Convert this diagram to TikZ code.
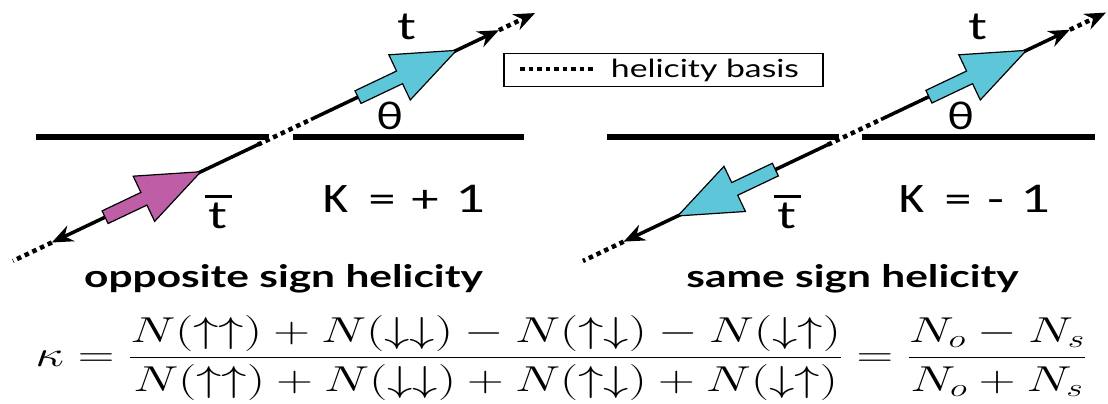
\RequirePackage{fix-cm}
\documentclass[tikz,border=0pt]{standalone}
\usepackage{amsmath}
\usepackage[no-math]{fontspec}
\setmainfont{Lato}
\usetikzlibrary{arrows.meta,calc}
\definecolor{helInk}{HTML}{000000}
\definecolor{helCyan}{HTML}{5EC6D9}
\definecolor{helMagenta}{HTML}{BE5EA7}
\tikzset{
  hel/axis/.style={draw=helInk, line width=5.5pt},
  hel/track/.style={draw=helInk, line width=3.5pt,
    -{Stealth[length=21pt,width=17pt]}},
  hel/basis/.style={draw=helInk, line width=4.5pt,
    dash pattern=on 4.5pt off 4pt},
  hel/basisend/.style={hel/basis, -{Stealth[length=21pt,width=17pt]}},
  hel/block/.style={draw=helInk, line width=1.2pt, line join=miter},
  hel/symbol/.style={font=\fontsize{38}{44}\selectfont, inner sep=0pt},
  hel/caption/.style={font=\fontsize{31}{36}\selectfont\bfseries,
    inner sep=0pt, anchor=base},
  hel/legend/.style={font=\fontsize{25}{30}\selectfont, inner sep=0pt},
}
% the source lettering is set wide
\newcommand{\helwide}[2][1.35]{\scalebox{#1}[1]{#2}}
\newcommand{\antitop}{\vbox{\offinterlineskip
  \hbox to 20pt{\hss\vrule width 20pt height 3pt\hss}\kern5pt
  \hbox to 20pt{\hss t\hss}}}
\newcommand{\helkappa}[1]{\helwide{\scalebox{1}[1.4]{κ}%
  \hspace{14pt}=\hspace{10pt}#1\hspace{12pt}1}}

\begin{document}
\begin{tikzpicture}[x=1pt, y=1pt]
\useasboundingbox (0,0) rectangle (1108,404);

% opposite sign helicity
\draw[hel/axis] (36,267) -- (269,267);
\draw[hel/axis] (293,267) -- (524,267);
\begin{scope}[shift={(274,267)}, rotate=25.4]
  \coordinate (oppLoEnd) at (-289,0);
  \coordinate (oppLoTip) at (-246,0);
  \coordinate (oppGapLo) at (-18,0);
  \coordinate (oppGapHi) at (41,0);
  \coordinate (oppHiTip) at (249,0);
  \coordinate (oppHiEnd) at (289,0);
  \draw[hel/basis] (oppLoTip) -- (oppLoEnd);
  \draw[hel/basis] (oppGapLo) -- (oppGapHi);
  \draw[hel/basisend] (oppHiTip) -- (oppHiEnd);
  \draw[hel/track] (oppGapLo) -- (oppLoTip);
  \draw[hel/track] (oppGapHi) -- (oppHiTip);
  \filldraw[hel/block, fill=helMagenta] (-187,-7) -- (-144,-7) -- (-144,-25)
    -- (-81,0) -- (-144,25) -- (-144,7) -- (-187,7) -- cycle;
  \filldraw[hel/block, fill=helCyan] (93,-7) -- (139,-7) -- (139,-25)
    -- (202,0) -- (139,25) -- (139,7) -- (93,7) -- cycle;
\end{scope}
\node[hel/symbol] (oppTop) at (407,377.5) {\helwide{t}};
\node[hel/symbol] (oppTheta) at (390,288) {\helwide[1.2]{θ}};
\node[hel/symbol] (oppAnti) at (218,192) {\helwide{\antitop}};
\node[hel/symbol, anchor=base] (oppKappa) at (404,191) {\helkappa{+}};
\node[hel/caption] (oppCaption) at (283.5,116)
  {\helwide[1.37]{opposite sign helicity}};

% same sign helicity
\draw[hel/axis] (607,267) -- (839,267);
\draw[hel/axis] (862,267) -- (1095,267);
\begin{scope}[shift={(844,267)}, rotate=25.4]
  \coordinate (samLoEnd) at (-289,0);
  \coordinate (samLoTip) at (-244,0);
  \coordinate (samGapLo) at (-18,0);
  \coordinate (samGapHi) at (41,0);
  \coordinate (samHiTip) at (250,0);
  \coordinate (samHiEnd) at (290,0);
  \draw[hel/basis] (samLoTip) -- (samLoEnd);
  \draw[hel/basis] (samGapLo) -- (samGapHi);
  \draw[hel/basisend] (samHiTip) -- (samHiEnd);
  \draw[hel/track] (samGapLo) -- (samLoTip);
  \draw[hel/track] (samGapHi) -- (samHiTip);
  \filldraw[hel/block, fill=helCyan] (-76,-7) -- (-121,-7) -- (-121,-25)
    -- (-184,0) -- (-121,25) -- (-121,7) -- (-76,7) -- cycle;
  \filldraw[hel/block, fill=helCyan] (94,-7) -- (139,-7) -- (139,-25)
    -- (202,0) -- (139,25) -- (139,7) -- (94,7) -- cycle;
\end{scope}
\node[hel/symbol] (samTop) at (978,377.5) {\helwide{t}};
\node[hel/symbol] (samTheta) at (961,288) {\helwide[1.2]{θ}};
\node[hel/symbol] (samAnti) at (787,192) {\helwide{\antitop}};
\node[hel/symbol, anchor=base] (samKappa) at (975,191) {\helkappa{-}};
\node[hel/caption] (samCaption) at (852.5,116)
  {\helwide[1.37]{same sign helicity}};

% legend
\node[draw=helInk, line width=1.5pt, minimum width=319pt, minimum height=33pt,
  inner sep=0pt] (legendBox) at (663.5,334) {};
\coordinate (legendDotsL) at (520,335);
\coordinate (legendDotsR) at (593,335);
\draw[hel/basis, line width=4pt] (legendDotsL) -- (legendDotsR);
\node[hel/legend] (legendText) at (705,334) {\helwide{helicity basis}};

% correlation
\node[font=\fontsize{36}{44}\selectfont, inner sep=0pt] (kappaDef) at (561,46)
  {\helwide[1.41]{$\kappa = \dfrac{N(\uparrow\uparrow) + N(\downarrow\downarrow)
    - N(\uparrow\downarrow) - N(\downarrow\uparrow)}{N(\uparrow\uparrow)
    + N(\downarrow\downarrow) + N(\uparrow\downarrow) + N(\downarrow\uparrow)}
    = \dfrac{N_o - N_s}{N_o + N_s}$}};
\end{tikzpicture}
\end{document}
